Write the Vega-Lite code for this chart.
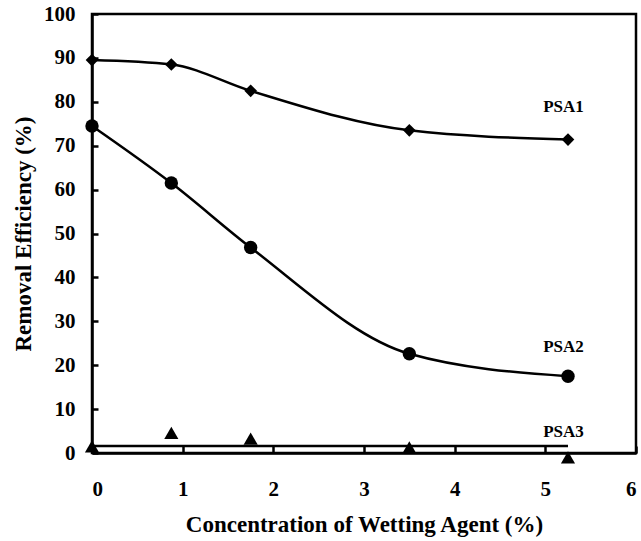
{
  "$schema": "https://vega.github.io/schema/vega-lite/v6.json",
  "width": 544,
  "height": 439,
  "autosize": {"type": "none"},
  "padding": {"left": 92, "top": 14, "right": 5, "bottom": 88},
  "background": "white",
  "config": {
    "view": {"stroke": "black", "strokeWidth": 2.5},
    "font": "Liberation Serif",
    "axis": {
      "domainColor": "black", "domainWidth": 2.5, "tickColor": "black", "tickWidth": 2.5,
      "grid": false, "labelFont": "Liberation Serif", "labelFontWeight": "bold", "labelFontSize": 21,
      "labelColor": "black", "titleFont": "Liberation Serif", "titleFontWeight": "bold",
      "titleFontSize": 23, "titleColor": "black"
    }
  },
  "datasets": {
    "pts": [
      {"series": "PSA1", "x": 0, "y": 89.5},
      {"series": "PSA1", "x": 0.875, "y": 88.5},
      {"series": "PSA1", "x": 1.75, "y": 82.5},
      {"series": "PSA1", "x": 3.5, "y": 73.5},
      {"series": "PSA1", "x": 5.25, "y": 71.4},
      {"series": "PSA2", "x": 0, "y": 74.5},
      {"series": "PSA2", "x": 0.875, "y": 61.5},
      {"series": "PSA2", "x": 1.75, "y": 46.8},
      {"series": "PSA2", "x": 3.5, "y": 22.6},
      {"series": "PSA2", "x": 5.25, "y": 17.5},
      {"series": "PSA3", "x": 0, "y": 1.5},
      {"series": "PSA3", "x": 0.875, "y": 4.6},
      {"series": "PSA3", "x": 1.75, "y": 3.3},
      {"series": "PSA3", "x": 3.5, "y": 1.3},
      {"series": "PSA3", "x": 5.25, "y": -1.0}
    ],
    "fit": [
      {"x": 0, "y": 1.6},
      {"x": 5.25, "y": 1.6}
    ],
    "labels": [
      {"label": "PSA1", "x": 5.2, "y": 78.8},
      {"label": "PSA2", "x": 5.2, "y": 24.1},
      {"label": "PSA3", "x": 5.2, "y": 4.8}
    ]
  },
  "resolve": {"scale": {"x": "independent", "y": "independent"}, "axis": {"x": "independent", "y": "independent"}},
  "layer": [
    {
      "data": {"name": "pts"},
      "transform": [{"filter": "datum.series !== 'PSA3'"}],
      "mark": {"type": "line", "interpolate": "monotone", "color": "black", "strokeWidth": 2.5},
      "encoding": {
        "x": {"field": "x", "type": "quantitative", "scale": {"domain": [0, 6], "nice": false},
          "axis": {"title": "Concentration of Wetting Agent (%)", "values": [0,1,2,3,4,5,6], "format": "d", "ticks": false, "labelPadding": 25, "titlePadding": 14}},
        "y": {"field": "y", "type": "quantitative", "scale": {"domain": [0, 100], "nice": false},
          "axis": {"title": "Removal Efficiency (%)", "values": [0,10,20,30,40,50,60,70,80,90,100], "ticks": false, "labelPadding": 17, "titlePadding": 8}},
        "detail": {"field": "series"}
      }
    },
    {
      "data": {"name": "fit"},
      "mark": {"type": "line", "color": "black", "strokeWidth": 2.5},
      "encoding": {
        "x": {"field": "x", "type": "quantitative", "scale": {"domain": [0, 6], "nice": false},
          "axis": {"orient": "bottom", "offset": -7, "tickSize": 7, "values": [0,1,2,3,4,5,6], "domain": false, "labels": false, "title": null}},
        "y": {"field": "y", "type": "quantitative", "scale": {"domain": [0, 100], "nice": false},
          "axis": {"orient": "left", "offset": -6, "tickSize": 6, "values": [0,10,20,30,40,50,60,70,80,90,100], "domain": false, "labels": false, "title": null}}
      }
    },
    {
      "data": {"name": "pts"},
      "mark": {"type": "point", "filled": true, "color": "black", "opacity": 1, "clip": false},
      "encoding": {
        "x": {"field": "x", "type": "quantitative", "scale": {"domain": [0, 6], "nice": false}, "axis": null},
        "y": {"field": "y", "type": "quantitative", "scale": {"domain": [0, 100], "nice": false}, "axis": null},
        "shape": {"field": "series", "type": "nominal", "scale": {"domain": ["PSA1", "PSA2", "PSA3"], "range": ["diamond", "circle", "triangle-up"]}, "legend": null},
        "size": {"field": "series", "type": "nominal", "scale": {"domain": ["PSA1", "PSA2", "PSA3"], "range": [160, 200, 180]}, "legend": null}
      }
    },
    {
      "data": {"name": "labels"},
      "mark": {"type": "text", "font": "Liberation Serif", "fontWeight": "bold", "fontSize": 17, "color": "black"},
      "encoding": {
        "x": {"field": "x", "type": "quantitative", "scale": {"domain": [0, 6], "nice": false}, "axis": null},
        "y": {"field": "y", "type": "quantitative", "scale": {"domain": [0, 100], "nice": false}, "axis": null},
        "text": {"field": "label"}
      }
    }
  ]
}
